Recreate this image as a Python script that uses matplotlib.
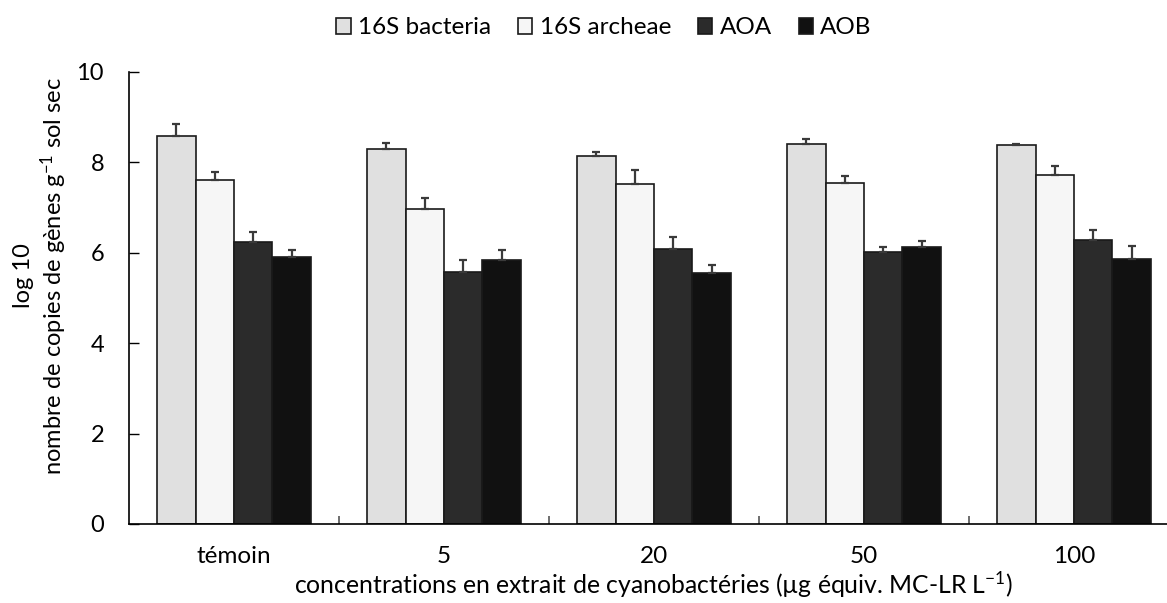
import numpy as np
import matplotlib.pyplot as plt
from matplotlib.ticker import FixedLocator, NullFormatter

plt.rcParams['font.family'] = ['Lato', 'DejaVu Sans']
plt.rcParams['mathtext.default'] = 'regular'

categories = ['témoin', '5', '20', '50', '100']
series = ['16S bacteria', '16S archeae', 'AOA', 'AOB']

bacteria = [8.59, 8.30, 8.14, 8.41, 8.39]
archeae = [7.60, 6.98, 7.53, 7.54, 7.73]
aoa = [6.25, 5.58, 6.08, 6.01, 6.28]
aob = [5.91, 5.83, 5.56, 6.12, 5.87]

bacteria_err = [0.26, 0.14, 0.08, 0.10, 0.02]
archeae_err = [0.19, 0.24, 0.30, 0.17, 0.18]
aoa_err = [0.20, 0.26, 0.28, 0.12, 0.23]
aob_err = [0.16, 0.23, 0.18, 0.15, 0.27]

values = [bacteria, archeae, aoa, aob]
errors = [bacteria_err, archeae_err, aoa_err, aob_err]
colors = ['#e0e0e0', '#f6f6f6', '#2b2b2b', '#111111']

fig = plt.figure(figsize=(11.67, 6.03), dpi=100)
ax = fig.add_axes([129 / 1167, 79 / 603, 1050 / 1167, 452 / 603])

x = np.arange(len(categories))
w = 0.183
for i, (vals, errs, c) in enumerate(zip(values, errors, colors)):
    pos = x + (i - 1.5) * w
    ax.bar(pos, vals, w, color=c, edgecolor='#1a1a1a', linewidth=1.2,
           label=series[i], zorder=2)
    ax.errorbar(pos, vals, yerr=[np.zeros(len(errs)), errs], fmt='none',
                ecolor='#3a3a3a', elinewidth=1.6, capsize=2.8, capthick=1.6, zorder=3)

ax.set_xlim(-0.5, len(categories) - 0.5)
ax.set_ylim(0, 10)
ax.set_yticks([0, 2, 4, 6, 8, 10])
ax.tick_params(axis='y', direction='in', length=7, width=1, labelsize=17, pad=18)
ax.set_xticks(x)
ax.set_xticklabels(categories)
ax.tick_params(axis='x', which='major', length=0, labelsize=17.5, pad=16)
ax.xaxis.set_minor_locator(FixedLocator(np.arange(0.5, len(categories) - 0.5, 1)))
ax.xaxis.set_minor_formatter(NullFormatter())
ax.tick_params(axis='x', which='minor', direction='in', length=6, width=1.2, color='#555555')

for s in ['top', 'right']:
    ax.spines[s].set_visible(False)
for s in ['left', 'bottom']:
    ax.spines[s].set_linewidth(1.2)

ax.set_xlabel('concentrations en extrait de cyanobactéries (µg équiv. MC-LR L$^{-1}$)',
              fontsize=17.8, labelpad=2)

fig.text(41 / 1167, 1 - 276 / 603,
         'log 10\nnombre de copies de gènes g$^{-1}$ sol sec',
         rotation=90, ha='center', va='center', fontsize=17, multialignment='center',
         linespacing=1.15)

fig.legend(loc='center', bbox_to_anchor=(604 / 1167, 1 - 28 / 603), ncol=4, frameon=False,
           fontsize=17.5, handlelength=0.6, handleheight=0.6, handletextpad=0.3,
           columnspacing=1.1)

fig.savefig('out.png', dpi=100)
